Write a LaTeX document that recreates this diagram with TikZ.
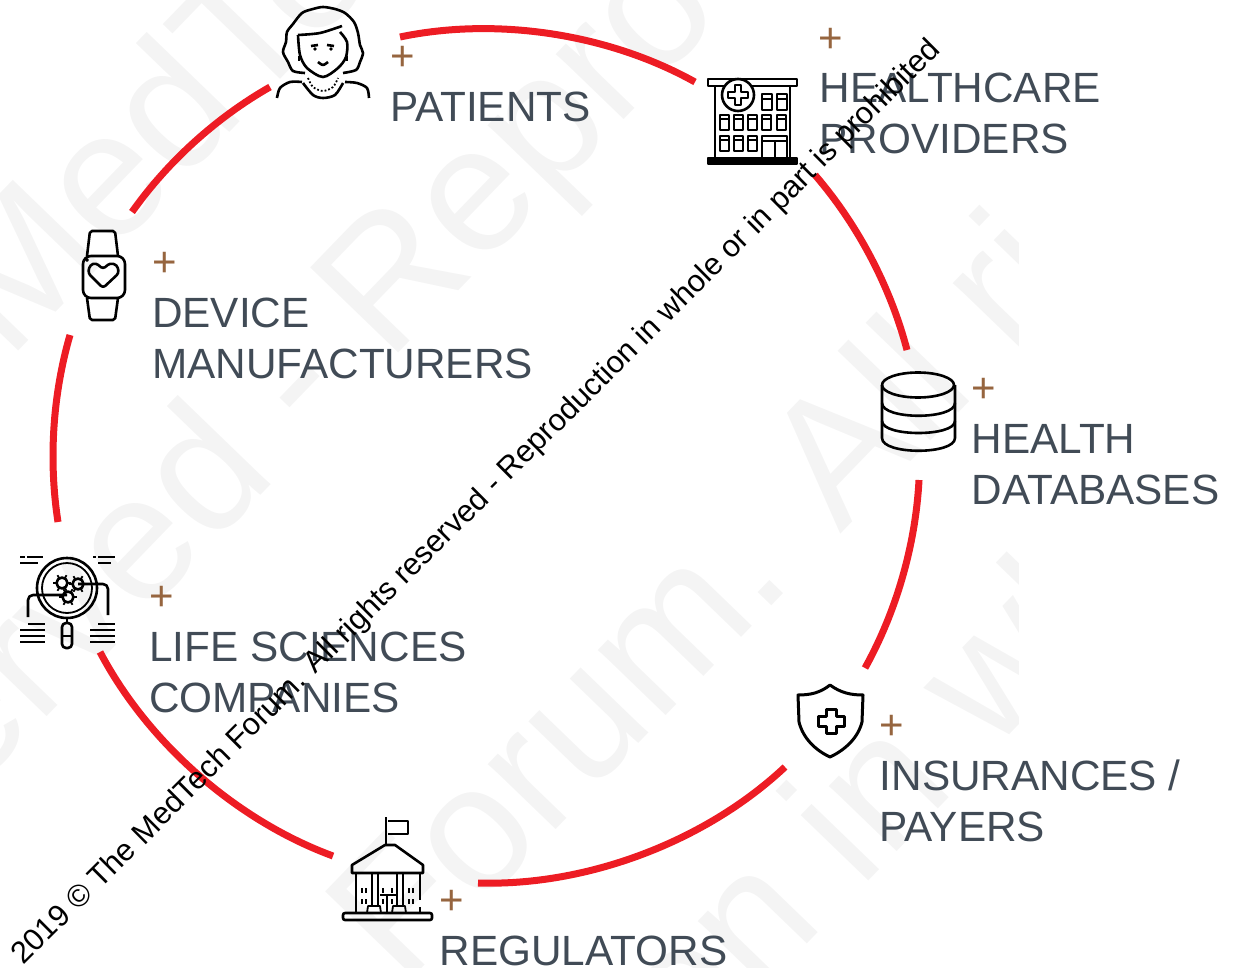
\documentclass[tikz,border=0pt]{standalone}
\usepackage{fontspec}
\setmainfont{Liberation Sans}
\usepackage{tikz}
\usetikzlibrary{arrows}
\usetikzlibrary{positioning,calc}
\definecolor{ringred}{HTML}{ED1C24}
\definecolor{slatetext}{HTML}{414B56}
\definecolor{plusbrown}{HTML}{96653F}
\definecolor{wmgrey}{HTML}{F4F4F4}
\tikzstyle{ring} = [ringred,line width=7pt,looseness=0.85]
\tikzstyle{icon} = [black,line width=2.6pt,line join=round]
\tikzstyle{thinicon} = [black,line width=1.8pt,line join=round]
\tikzstyle{spot} = [inner sep=0pt,minimum size=40pt]
\tikzstyle{cardtext} = [slatetext,inner sep=0pt,anchor=base west,align=left,font=\fontsize{42.3}{51}\selectfont]
\tikzstyle{plusmark} = [plusbrown,inner sep=0pt,font=\fontsize{42}{42}\selectfont]
\tikzstyle{wmark} = [wmgrey,inner sep=0pt,anchor=base west,rotate=46,font=\fontsize{178}{178}\selectfont]
\begin{document}
\begin{tikzpicture}[x=1pt,y=-1pt]
\useasboundingbox (0,0) rectangle (1236,968);
\clip (0,0) rectangle (1236,968);

\begin{scope}
\clip (0,0) rectangle (1018,968);
\node [wmark] (wm1) at (8,362) {MedTech};
\node [wmark] (wm2) at (389,363) {\llap{reserved - }Reproduction};
\node [wmark] (wm3) at (403,988) {Forum. All rights};
\node [wmark] (wm4) at (861,889) {\llap{Reproduction }in whole};
\end{scope}

\coordinate (a1) at (400,37);
\coordinate (a2) at (695,82);
\coordinate (b1) at (815,175);
\coordinate (b2) at (907,350);
\coordinate (c1) at (919,480);
\coordinate (c2) at (865,668);
\coordinate (d1) at (785,767);
\coordinate (d2) at (478,883);
\coordinate (e1) at (333,856);
\coordinate (e2) at (100,652);
\coordinate (f1) at (58,522);
\coordinate (f2) at (70,335);
\coordinate (g1) at (132,212);
\coordinate (g2) at (270,87);
\draw [ring] (a1) to [bend left=20.5] (a2);
\draw [ring] (b1) to [bend left=13] (b2);
\draw [ring] (c1) to [bend left=13] (c2);
\draw [ring] (d1) to [bend left=22.5] (d2);
\draw [ring] (e1) to [bend left=21] (e2);
\draw [ring] (f1) to [bend left=12.5] (f2);
\draw [ring] (g1) to [bend left=12.5] (g2);

\node [spot] (patients) at (322,55) {};
\draw [icon] plot [smooth] coordinates {(305,73) (293,71) (288,62) (283,52) (286,42) (287,32) (293,24) (302,13) (313,9) (323,7) (335,9) (345,13) (354,22) (358,33) (360,45) (363,53) (360,62) (356,70) (343,73)};
\draw [icon] plot [smooth] coordinates {(298,35) (320,33) (342,26)};
\draw [icon] plot [smooth] coordinates {(340,32) (347,42) (346,57) (338,68) (323,77) (307,68) (300,55) (298,35)};
\draw [icon] (311,46) -- (318,45);
\draw [icon] (327,45) -- (334,46);
\fill (315,49) circle (1.8);
\fill (331,49) circle (1.8);
\draw [icon] plot [smooth] coordinates {(318,62) (323,65) (328,62)};
\draw [thinicon] (299,56) -- (299,61);
\draw [thinicon] (347,56) -- (347,61);
\draw [icon] plot [smooth] coordinates {(277,98) (280,88) (290,82) (302,82)};
\draw [icon] plot [smooth] coordinates {(303,83) (313,95) (323,98) (335,95) (343,83)};
\draw [icon] plot [smooth] coordinates {(345,82) (357,83) (367,88) (369,98)};
\draw [thinicon,dotted] plot [smooth] coordinates {(308,78) (313,87) (323,91) (333,87) (338,78)};

\node [spot] (providers) at (752,121) {};
\draw [icon] (708,79) rectangle (797,86);
\draw [icon,fill=black] (708,158) rectangle (797,164);
\draw [icon] (715,86) -- (715,158);
\draw [icon] (790,86) -- (790,158);
\draw [icon,fill=white] (738,95) circle (16);
\draw [thinicon] (735,85) -- (741,85) -- (741,92) -- (748,92) -- (748,98) -- (741,98) -- (741,105) -- (735,105) -- (735,98) -- (728,98) -- (728,92) -- (735,92) -- cycle;
\foreach \wx in {762,777} {
  \draw [icon] (\wx,94) rectangle ++(10,16);
  \draw [thinicon] (\wx,99) -- ++(10,0);
}
\foreach \wx in {720,734,748,762,777} {
  \draw [icon] (\wx,115) rectangle ++(9,15);
  \draw [thinicon] (\wx,119) -- ++(9,0);
}
\foreach \wx in {720,734,748} {
  \draw [icon] (\wx,136) rectangle ++(9,15);
  \draw [thinicon] (\wx,140) -- ++(9,0);
}
\draw [icon] (762,158) -- (762,136) -- (787,136) -- (787,158);
\draw [thinicon] (762,141) -- (787,141);
\draw [thinicon] (775,141) -- (775,158);

\node [spot] (databases) at (918,412) {};
\draw [icon] (918,385) ellipse [x radius=36,y radius=12.5];
\draw [icon] (882,385) -- (882,438) .. controls (882,455) and (955,455) .. (955,438) -- (955,385);
\draw [icon] (882,403) .. controls (882,420) and (955,420) .. (955,403);
\draw [icon] (882,421) .. controls (882,437) and (955,437) .. (955,421);

\node [spot] (payers) at (831,721) {};
\draw [icon,line width=3pt] (830,685) .. controls (820,693) and (810,695) .. (798,695) -- (799,722) .. controls (803,738) and (815,750) .. (830,757) .. controls (845,750) and (858,738) .. (862,722) -- (863,695) .. controls (851,695) and (841,693) .. (830,685) -- cycle;
\draw [icon,line width=3pt] (826,709) -- (836,709) -- (836,716) -- (844,716) -- (844,726) -- (836,726) -- (836,733) -- (826,733) -- (826,726) -- (818,726) -- (818,716) -- (826,716) -- cycle;

\node [spot] (regulators) at (388,880) {};
\draw [icon] (386,845) -- (386,817);
\draw [thinicon] (388,821) -- (408,821) -- (408,834) -- (388,834);
\draw [icon] (385,845) -- (395,845) -- (423,865) -- (423,873) -- (352,873) -- (352,865) -- cycle;
\draw [icon] (356,873) -- (356,913);
\draw [icon] (420,873) -- (420,900);
\draw [icon] (420,907) -- (420,913);
\draw [icon] (372,873) -- (372,906);
\draw [icon] (378,873) -- (378,906);
\draw [icon] (397,873) -- (397,906);
\draw [icon] (403,873) -- (403,906);
\draw [icon,rounded corners=2pt] (343,913) rectangle (432,920);
\draw [thinicon] (367,913) -- (368,906) -- (380,906) -- (381,913);
\draw [thinicon] (392,913) -- (393,906) -- (405,906) -- (406,913);
\draw [thinicon] (380,895) -- (397,895);
\draw [thinicon] (387,895) -- (387,913);
\foreach \wx in {362,366,383,392,409,413}
  \foreach \wy in {888,899}
    \draw [thinicon] (\wx,\wy) -- ++(0,5);

\node [spot] (lifesci) at (67,600) {};
\draw [icon] (67,588) circle (30);
\draw [thinicon] (67,588) circle (25);
\foreach \gx/\gy in {62/583,78/584,68/597} {
  \draw [icon] (\gx,\gy) circle (5.5);
  \foreach \ga in {0,60,...,300}
    \draw [thinicon] ($(\gx,\gy)+(\ga:6)$) -- ($(\gx,\gy)+(\ga:9)$);
}
\draw [icon,rounded corners=5pt] (28,617) -- (28,595) -- (67,595);
\draw [icon,rounded corners=5pt] (78,584) -- (108,584) -- (108,615);
\draw [icon] (67,618) -- (67,623);
\draw [icon,rounded corners=4pt] (62,623) rectangle (72,648);
\draw [icon] (62,636) -- (72,636);
\foreach \ly/\lx/\lw in {557/27/16,563/20/18}
  \draw [icon] (\lx,\ly) -- ++(\lw,0);
\draw [icon] (20,557) -- (25,557);
\foreach \ly/\lx/\lw in {557/98/17,563/98/13}
  \draw [icon] (\lx,\ly) -- ++(\lw,0);
\draw [icon] (93,557) -- (96,557);
\foreach \ly in {630,636,642}
  \draw [icon] (20,\ly) -- (45,\ly);
\draw [icon] (28,624) -- (45,624);
\foreach \ly in {630,636,642}
  \draw [icon] (90,\ly) -- (115,\ly);
\draw [icon] (98,624) -- (115,624);

\node [spot] (device) at (103,276) {};
\draw [icon,rounded corners=8pt] (83,256) rectangle (125,298);
\draw [icon,rounded corners=2pt] (87,256) -- (90,231) -- (115,231) -- (118,256);
\draw [icon,rounded corners=2pt] (87,298) -- (90,320) -- (115,320) -- (118,298);
\draw [icon,rounded corners=3pt] (103,288) -- (88,273) -- (90,265) -- (96,263) -- (103,269) -- (110,263) -- (117,265) -- (119,273) -- cycle;
\draw [thinicon] (87,260) circle (1);

\node [plusmark] (plus1) at (403,58) {+};
\node [plusmark] (plus2) at (831,40) {+};
\node [plusmark] (plus3) at (984,390) {+};
\node [plusmark] (plus4) at (892,727) {+};
\node [plusmark] (plus5) at (452,902) {+};
\node [plusmark] (plus6) at (162,598) {+};
\node [plusmark] (plus7) at (165,264) {+};

\node [cardtext] (t1) at (390,122) {PATIENTS};
\node [cardtext] (t2) at (819.5,154) {HEALTHCARE\\PROVIDERS};
\node [cardtext] (t3) at (971.5,504) {HEALTH\\DATABASES};
\node [cardtext] (t4) at (879.5,841) {INSURANCES /\\PAYERS};
\node [cardtext] (t5) at (439.5,965) {REGULATORS};
\node [cardtext] (t6) at (149,712) {LIFE SCIENCES\\COMPANIES};
\node [cardtext] (t7) at (152,378) {DEVICE\\MANUFACTURERS};

\node [rotate=44.9,inner sep=0pt,font=\fontsize{30.8}{30.8}\selectfont] (notice) at (477,503) {2019 © The MedTech Forum. All rights reserved - Reproduction in whole or in part is prohibited};
\end{tikzpicture}
\end{document}
